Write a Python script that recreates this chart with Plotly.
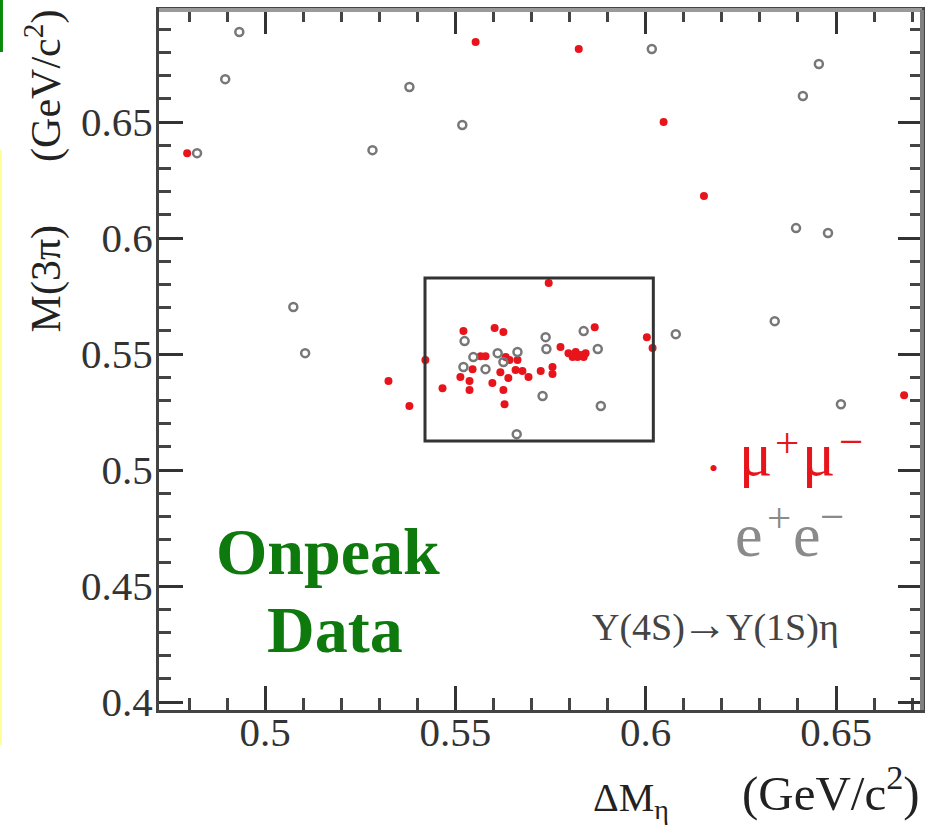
import plotly.graph_objects as go

# ---- data ----
mumu_dm = [0.4795, 0.5553, 0.5824, 0.6047, 0.6153, 0.5745, 0.5521, 0.5603, 0.5626, 0.5866,
           0.6003, 0.6018, 0.5776, 0.5797, 0.5816, 0.5829, 0.5842, 0.5808, 0.5821, 0.5837,
           0.5421, 0.5566, 0.5579, 0.5632, 0.5642, 0.5663, 0.5545, 0.5618, 0.5658, 0.5676,
           0.5692, 0.5724, 0.5755, 0.5755, 0.5513, 0.5537, 0.5537, 0.5639, 0.5597, 0.5626,
           0.5466, 0.5629, 0.5324, 0.5379, 0.6679]
mumu_m3pi = [0.6366, 0.6845, 0.6815, 0.6500, 0.6181, 0.5806, 0.5599, 0.5612, 0.5595, 0.5616,
             0.5573, 0.5526, 0.5530, 0.5504, 0.5509, 0.5496, 0.5504, 0.5487, 0.5487, 0.5487,
             0.5474, 0.5491, 0.5491, 0.5487, 0.5474, 0.5474, 0.5435, 0.5422, 0.5431, 0.5427,
             0.5401, 0.5427, 0.5444, 0.5414, 0.5401, 0.5384, 0.5345, 0.5397, 0.5375, 0.5345,
             0.5353, 0.5284, 0.5384, 0.5276, 0.5323]

ee_dm = [0.4932, 0.4895, 0.5379, 0.5518, 0.4821, 0.5282, 0.6016, 0.6455, 0.6413, 0.6395,
         0.6479, 0.5074, 0.5105, 0.5524, 0.5837, 0.5737, 0.5739, 0.5874, 0.5547, 0.5611,
         0.5663, 0.5521, 0.5579, 0.5729, 0.5882, 0.5661, 0.5626, 0.6079, 0.6339, 0.6513]
ee_m3pi = [0.6888, 0.6685, 0.6651, 0.6487, 0.6366, 0.6379, 0.6815, 0.6750, 0.6612, 0.6043,
           0.6022, 0.5703, 0.5504, 0.5556, 0.5599, 0.5573, 0.5522, 0.5522, 0.5487, 0.5504,
           0.5509, 0.5444, 0.5435, 0.5319, 0.5276, 0.5155, 0.5466, 0.5586, 0.5642, 0.5284]

x_tickvals = [0.5, 0.55, 0.6, 0.65]
x_ticktext = ["0.5", "0.55", "0.6", "0.65"]
y_tickvals = [0.4, 0.45, 0.5, 0.55, 0.6, 0.65]
y_ticktext = ["0.4", "0.45", "0.5", "0.55", "0.6", "0.65"]

box_dm = [0.542, 0.602]
box_m3pi = [0.5125, 0.5828]

x_range = [0.4721, 0.6726]
y_range = [0.3966, 0.6983]

SERIF = "Liberation Serif, Times New Roman, serif"
RED = "#e8141c"
GRAY = "#8a8a8a"

fig = go.Figure()
fig.add_trace(go.Scatter(x=mumu_dm, y=mumu_m3pi, mode="markers",
                         marker=dict(symbol="circle", size=8, color=RED, line=dict(width=0)),
                         showlegend=False))
fig.add_trace(go.Scatter(x=ee_dm, y=ee_m3pi, mode="markers",
                         marker=dict(symbol="circle-open", size=8, color="#777777",
                                     line=dict(width=2.5, color="#777777")),
                         showlegend=False))

fig.add_shape(type="rect", xref="x", yref="y", x0=box_dm[0], x1=box_dm[1],
              y0=box_m3pi[0], y1=box_m3pi[1], line=dict(color="#333333", width=3))

axis_common = dict(
    showgrid=False, zeroline=False, showline=True, linecolor="#444444", linewidth=3,
    mirror="allticks", ticks="inside", ticklen=24, tickwidth=2.5, tickcolor="#333333",
    tickfont=dict(family=SERIF, size=41, color="#333333"),
    minor=dict(dtick=0.01, ticks="inside", ticklen=12, tickwidth=2.5, tickcolor="#444444",
               showgrid=False),
)
fig.update_xaxes(range=x_range, tickvals=x_tickvals, ticktext=x_ticktext, tick0=0.5,
                 ticklabelstandoff=-16, **axis_common)
fig.update_yaxes(range=y_range, tickvals=y_tickvals, ticktext=y_ticktext, tick0=0.4,
                 ticklabelstandoff=-5, **axis_common)

nb = "\u00a0"
annotations = [
    dict(text="ΔM<sub>η</sub>", x=0.5662, y=-0.0906, xanchor="left", yanchor="top",
         font=dict(family=SERIF, size=40, color="#222222")),
    dict(text="(GeV/c<sup>2</sup>)", x=1.0, y=-0.1609, xanchor="right", yanchor="bottom",
         font=dict(family=SERIF, size=49, color="#222222")),
    dict(text="M(3π)" + nb * 6 + "(GeV/c<sup>2</sup>)", x=-0.1507, y=1.003, textangle=-90,
         xanchor="center", yanchor="top", font=dict(family=SERIF, size=42, color="#222222")),
    dict(text="<b>Onpeak</b>", x=0.2215, y=0.2271, xanchor="center", yanchor="middle",
         font=dict(family=SERIF, size=66, color="#0e7a0e")),
    dict(text="<b>Data</b>", x=0.2307, y=0.1157, xanchor="center", yanchor="middle",
         font=dict(family=SERIF, size=66, color="#0e7a0e")),
    # legend: mu+ mu-
    dict(text="•", x=0.7261, y=0.3443, xanchor="center", yanchor="middle",
         font=dict(family=SERIF, size=26, color=RED)),
    dict(text="μ", x=0.7575, y=0.3657, xanchor="left", yanchor="middle",
         font=dict(family=SERIF, size=62, color=RED)),
    dict(text="+", x=0.8047, y=0.3821, xanchor="left", yanchor="middle",
         font=dict(family=SERIF, size=43, color=RED)),
    dict(text="μ", x=0.8401, y=0.3657, xanchor="left", yanchor="middle",
         font=dict(family=SERIF, size=62, color=RED)),
    dict(text="−", x=0.8886, y=0.3836, xanchor="left", yanchor="middle",
         font=dict(family=SERIF, size=43, color=RED)),
    # legend: e+ e-
    dict(text="e", x=0.7523, y=0.25, xanchor="left", yanchor="middle",
         font=dict(family=SERIF, size=62, color=GRAY)),
    dict(text="+", x=0.7942, y=0.275, xanchor="left", yanchor="middle",
         font=dict(family=SERIF, size=43, color=GRAY)),
    dict(text="e", x=0.8283, y=0.25, xanchor="left", yanchor="middle",
         font=dict(family=SERIF, size=62, color=GRAY)),
    dict(text="−", x=0.8637, y=0.2764, xanchor="left", yanchor="middle",
         font=dict(family=SERIF, size=43, color=GRAY)),
    # process label
    dict(text="Υ(4S)", x=0.5649, y=0.1183, xanchor="left", yanchor="middle",
         font=dict(family=SERIF, size=38, color="#444444")),
    dict(text="→", x=0.6828, y=0.1221, xanchor="left", yanchor="middle",
         font=dict(family=SERIF, size=46, color="#444444")),
    dict(text="Υ(1S)η", x=0.7405, y=0.1183, xanchor="left", yanchor="middle",
         font=dict(family=SERIF, size=38, color="#444444")),
]
for a in annotations:
    a.update(xref="paper", yref="paper", showarrow=False)

# lighter top / right frame edges
fig.add_shape(type="line", xref="paper", yref="paper", x0=0, x1=1, y0=1, y1=1,
              line=dict(color="#9a9a9a", width=4), layer="above")
fig.add_shape(type="line", xref="paper", yref="paper", x0=1, x1=1, y0=0, y1=1,
              line=dict(color="#808080", width=4), layer="above")

# screenshot edge artifacts
fig.add_shape(type="rect", xref="paper", yref="paper", x0=-0.2084, x1=-0.2045, y0=0.94, y1=1.0143,
              fillcolor="#0a8a0a", line=dict(width=0), layer="above")
fig.add_shape(type="rect", xref="paper", yref="paper", x0=-0.2084, x1=-0.2058, y0=-0.05, y1=0.8,
              fillcolor="#ffff99", line=dict(width=0), layer="above")

fig.update_layout(
    width=936, height=826, margin=dict(l=159, r=14, t=10, b=116, autoexpand=False),
    paper_bgcolor="white", plot_bgcolor="white", annotations=annotations,
    font=dict(family=SERIF),
)
fig.write_html("out.html")
